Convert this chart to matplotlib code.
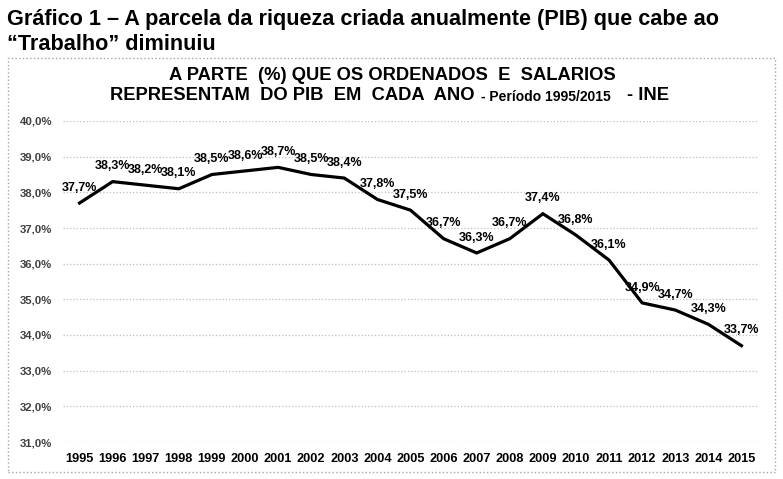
import matplotlib.pyplot as plt
from matplotlib.patches import Rectangle

years = [str(y) for y in range(1995, 2016)]
share = [37.7, 38.3, 38.2, 38.1, 38.5, 38.6, 38.7, 38.5, 38.4, 37.8, 37.5,
         36.7, 36.3, 36.7, 37.4, 36.8, 36.1, 34.9, 34.7, 34.3, 33.7]
yticks = [31, 32, 33, 34, 35, 36, 37, 38, 39, 40]

plt.rcParams['font.family'] = ['Liberation Sans', 'DejaVu Sans']

W, H = 783, 479
fig = plt.figure(figsize=(W / 100, H / 100), dpi=100)

def fx(px):
    return px / W

def fy(py):
    return 1 - py / H

# header above the chart box
fig.text(fx(7), fy(19), "Gráfico 1 – A parcela da riqueza criada anualmente (PIB) que cabe ao",
         fontsize=15.6, fontweight='bold', va='center', ha='left')
fig.text(fx(7), fy(44), "“Trabalho” diminuiu",
         fontsize=15.6, fontweight='bold', va='center', ha='left')

# dotted chart border
fig.patches.append(Rectangle((fx(8), fy(472)), fx(775) - fx(8), fy(58) - fy(472),
                             transform=fig.transFigure, fill=False,
                             edgecolor='#a6a6a6', linestyle=':', linewidth=1))

# chart title
fig.text(fx(392), fy(75), "A PARTE  (%) QUE OS ORDENADOS  E  SALARIOS",
         fontsize=13.2, fontweight='bold', va='center', ha='center')
fig.text(fx(110), fy(96), "REPRESENTAM  DO PIB  EM  CADA  ANO",
         fontsize=13.2, fontweight='bold', va='center', ha='left')
fig.text(fx(481), fy(97), "- Período 1995/2015",
         fontsize=10, fontweight='bold', va='center', ha='left')
fig.text(fx(627), fy(96), "- INE",
         fontsize=13.2, fontweight='bold', va='center', ha='left')

ax = fig.add_axes([fx(63), fy(442), fx(758) - fx(63), fy(121) - fy(442)])
x = list(range(len(years)))
ax.plot(x, share, color='black', linewidth=2.3, solid_joinstyle='miter')

for xi, v in zip(x, share):
    ax.annotate(f"{v:.1f}%".replace('.', ','), (xi, v), xytext=(0, 11),
                textcoords='offset points', ha='center', va='center',
                fontsize=9, fontweight='bold')

ax.set_xlim(-0.5, len(years) - 0.5)
ax.set_ylim(31, 40)
ax.set_xticks(x)
ax.set_xticklabels(years, fontsize=9.2, fontweight='bold')
ax.set_yticks(yticks)
ax.set_yticklabels([f"{t:.1f}%".replace('.', ',') for t in yticks],
                   fontsize=8.2, fontweight='bold', color='#404040')
ax.tick_params(length=0, axis='x', pad=8)
ax.tick_params(length=0, axis='y', pad=8)
ax.grid(axis='y', color='#bfbfbf', linestyle=':', linewidth=0.9)
ax.set_axisbelow(True)
for s in ax.spines.values():
    s.set_visible(False)

fig.savefig('out.png', dpi=100)
